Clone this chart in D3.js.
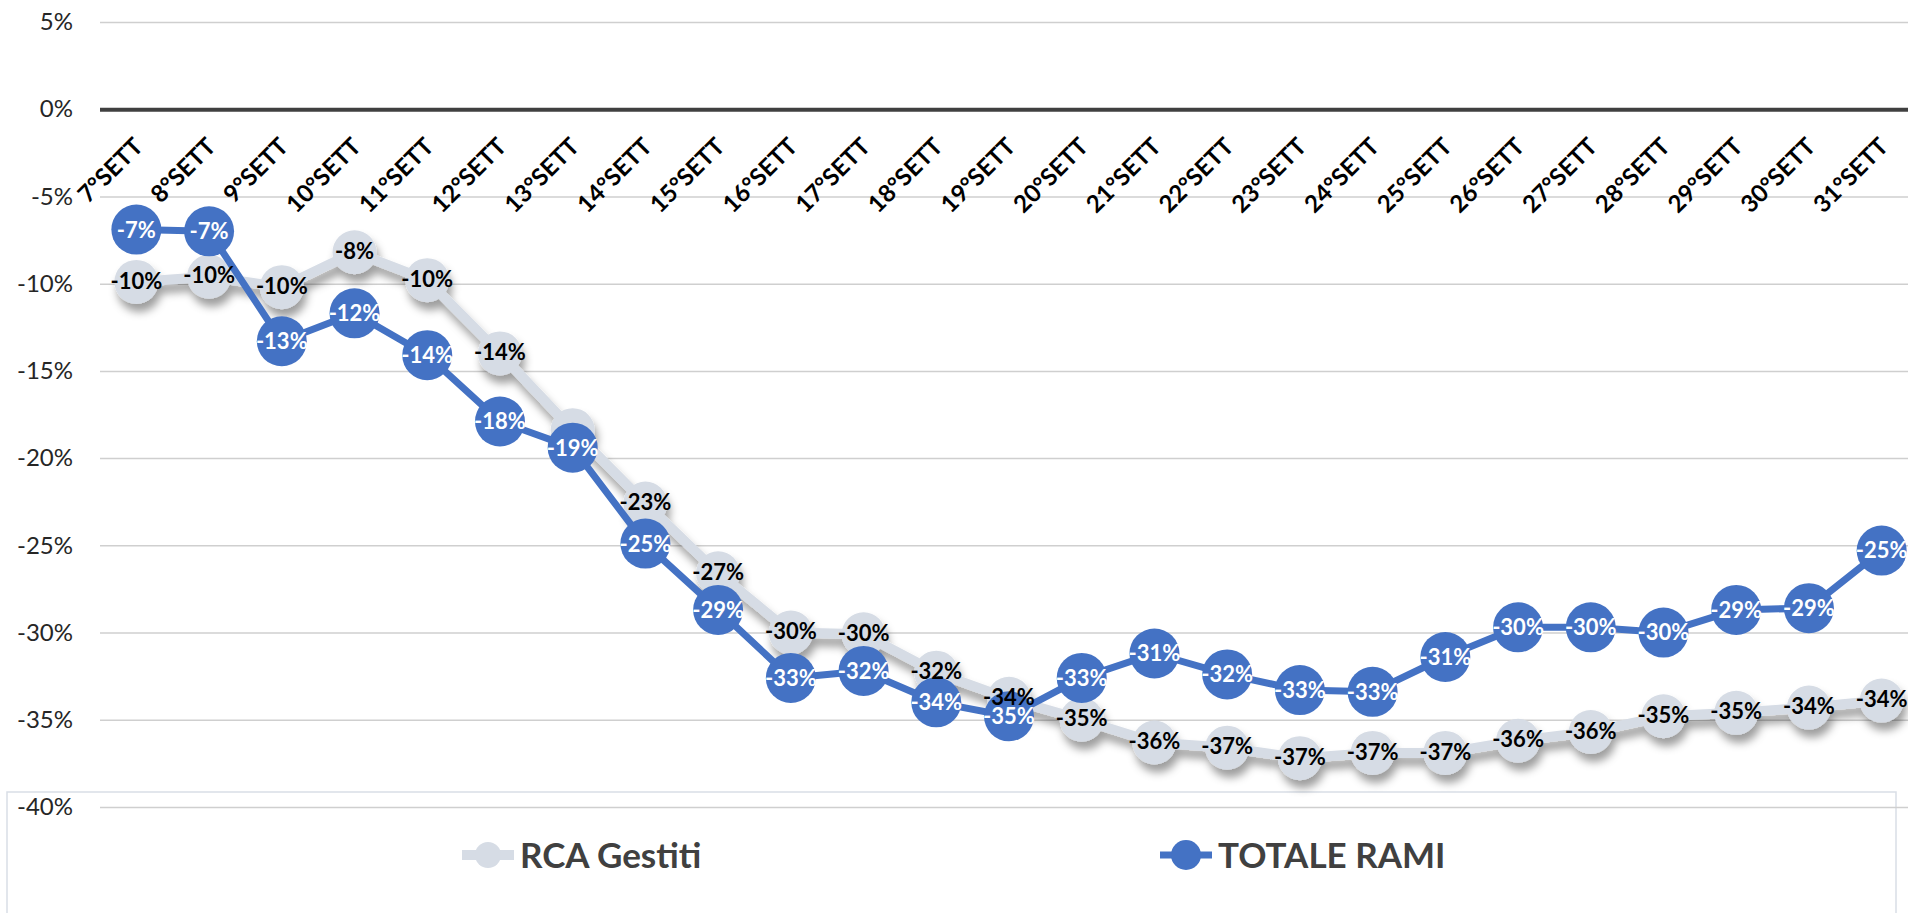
<!DOCTYPE html>
<html>
<head>
<meta charset="utf-8">
<script src="https://cdn.jsdelivr.net/npm/d3@7"></script>
<style>
  body { margin: 0; background: #ffffff; }
  svg { display: block; font-family: Lato, "Open Sans", sans-serif; }
</style>
</head>
<body>
<div id="chart"></div>
<script>
// Categories (weeks) and the two series, values in percent
var weeks = ["7°SETT", "8°SETT", "9°SETT", "10°SETT", "11°SETT", "12°SETT", "13°SETT",
  "14°SETT", "15°SETT", "16°SETT", "17°SETT", "18°SETT", "19°SETT", "20°SETT", "21°SETT",
  "22°SETT", "23°SETT", "24°SETT", "25°SETT", "26°SETT", "27°SETT", "28°SETT", "29°SETT",
  "30°SETT", "31°SETT"];

var rcaGestiti = [-9.9, -9.6, -10.2, -8.2, -9.8, -14.0, -18.4, -22.6, -26.6, -30.0, -30.1,
  -32.3, -33.8, -35.0, -36.3, -36.6, -37.2, -36.9, -36.9, -36.2, -35.7, -34.8, -34.6,
  -34.3, -33.9];

var totaleRami = [-6.9, -7.0, -13.3, -11.7, -14.1, -17.9, -19.4, -24.9, -28.7, -32.6, -32.2,
  -34.0, -34.8, -32.6, -31.2, -32.4, -33.3, -33.4, -31.4, -29.7, -29.7, -30.0, -28.7,
  -28.6, -25.3];

// weeks where the RCA label is not shown in the original
var rcaHiddenLabels = ["13°SETT"];

var yTicks = [5, 0, -5, -10, -15, -20, -25, -30, -35, -40];

var seriesNames = ["RCA Gestiti", "TOTALE RAMI"];

// Sizes
var svgWidth = 1908;
var svgHeight = 913;
var plotLeft = 100;
var plotRight = 1918;

var svg = d3.select("#chart")
  .append("svg")
  .attr("width", svgWidth)
  .attr("height", svgHeight);

// shadow under the grey series
var defs = svg.append("defs");
var shadow = defs.append("filter")
  .attr("id", "greyShadow")
  .attr("x", "-20%").attr("y", "-20%")
  .attr("width", "140%").attr("height", "160%");
shadow.append("feDropShadow")
  .attr("dx", 3)
  .attr("dy", 8)
  .attr("stdDeviation", 4)
  .attr("flood-color", "#000000")
  .attr("flood-opacity", 0.38);

var xScale = d3.scaleBand()
  .domain(weeks)
  .range([plotLeft, plotRight]);

var yScale = d3.scaleLinear()
  .domain([5, -40])
  .range([22, 807]);

function cx(i) {
  return xScale(weeks[i]) + xScale.bandwidth() / 2;
}

function pct(v) {
  return Math.round(v) + "%";
}

// legend box sits under everything
svg.append("rect")
  .attr("x", 7)
  .attr("y", 792)
  .attr("width", 1889)
  .attr("height", 200)
  .attr("fill", "none")
  .attr("stroke", "#d9dee6")
  .attr("stroke-width", 1.5);

// y axis with gridlines
var yAxis = d3.axisLeft(yScale)
  .tickValues(yTicks)
  .tickSize(-(plotRight - plotLeft))
  .tickPadding(27)
  .tickFormat(function(d) { return d + "%"; });

var yG = svg.append("g")
  .attr("transform", "translate(" + plotLeft + ",0)")
  .call(yAxis);

yG.select(".domain").remove();
yG.selectAll(".tick line")
  .attr("stroke", function(d) { return d === 0 ? "#404040" : "#cfcfcf"; })
  .attr("stroke-width", function(d) { return d === 0 ? 4 : 1.5; });
yG.selectAll(".tick text")
  .attr("font-size", 24)
  .attr("font-family", "Lato, sans-serif")
  .attr("fill", "#262626");

// x labels, rotated under the 0% line
var xG = svg.append("g");
xG.selectAll("text")
  .data(weeks)
  .enter()
  .append("text")
  .attr("transform", function(d, i) {
    return "translate(" + (cx(i) + 8) + ",148) rotate(-45)";
  })
  .attr("text-anchor", "end")
  .attr("font-size", 24)
  .attr("font-weight", "bold")
  .attr("fill", "#000000")
  .text(function(d) { return d; });

var line = d3.line()
  .x(function(d, i) { return cx(i); })
  .y(function(d) { return yScale(d); });

// grey series
var greyG = svg.append("g").attr("filter", "url(#greyShadow)");
greyG.append("path")
  .datum(rcaGestiti)
  .attr("d", line)
  .attr("fill", "none")
  .attr("stroke", "#d6dce5")
  .attr("stroke-width", 10)
  .attr("stroke-linejoin", "round");
greyG.selectAll("circle")
  .data(rcaGestiti)
  .enter()
  .append("circle")
  .attr("cx", function(d, i) { return cx(i); })
  .attr("cy", function(d) { return yScale(d); })
  .attr("r", 22)
  .attr("fill", "#d6dce5");

// blue series
var blueG = svg.append("g");
blueG.append("path")
  .datum(totaleRami)
  .attr("d", line)
  .attr("fill", "none")
  .attr("stroke", "#4472c4")
  .attr("stroke-width", 7)
  .attr("stroke-linejoin", "round");
blueG.selectAll("circle")
  .data(totaleRami)
  .enter()
  .append("circle")
  .attr("cx", function(d, i) { return cx(i); })
  .attr("cy", function(d) { return yScale(d); })
  .attr("r", 25)
  .attr("fill", "#4472c4");

// data labels (keep the index with each value)
var rcaLabels = rcaGestiti
  .map(function(v, i) { return { v: v, i: i }; })
  .filter(function(d) { return rcaHiddenLabels.indexOf(weeks[d.i]) < 0; });

svg.append("g").selectAll("text")
  .data(rcaLabels)
  .enter()
  .append("text")
  .attr("x", function(d) { return cx(d.i); })
  .attr("y", function(d) { return yScale(d.v); })
  .attr("dy", "0.3em")
  .attr("text-anchor", "middle")
  .attr("font-size", 22)
  .attr("font-weight", "bold")
  .attr("fill", "#000000")
  .text(function(d) { return pct(d.v); });

svg.append("g").selectAll("text")
  .data(totaleRami)
  .enter()
  .append("text")
  .attr("x", function(d, i) { return cx(i); })
  .attr("y", function(d) { return yScale(d); })
  .attr("dy", "0.36em")
  .attr("text-anchor", "middle")
  .attr("font-size", 22)
  .attr("font-weight", "bold")
  .attr("fill", "#ffffff")
  .text(pct);

// legend
var legendItems = [
  { name: seriesNames[0], x: 488, color: "#d6dce5", r: 13 },
  { name: seriesNames[1], x: 1186, color: "#4472c4", r: 15 }
];
var legend = svg.append("g").selectAll("g")
  .data(legendItems)
  .enter()
  .append("g")
  .attr("transform", function(d) { return "translate(" + d.x + ",855)"; });

legend.append("line")
  .attr("x1", -26).attr("x2", 26)
  .attr("stroke", function(d) { return d.color; })
  .attr("stroke-width", function(d, i) { return i === 0 ? 10 : 7; });
legend.append("circle")
  .attr("r", function(d) { return d.r; })
  .attr("fill", function(d) { return d.color; });
legend.append("text")
  .attr("x", 32)
  .attr("dy", "0.36em")
  .attr("font-size", 35)
  .attr("font-weight", "bold")
  .attr("fill", "#404040")
  .text(function(d) { return d.name; });
</script>
</body>
</html>
